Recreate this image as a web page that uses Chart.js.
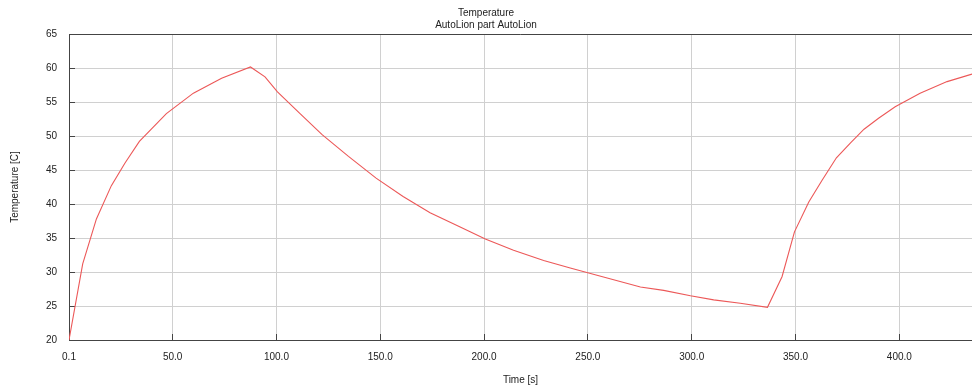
<!DOCTYPE html>
<html>
<head>
<meta charset="utf-8">
<script src="https://cdn.jsdelivr.net/npm/chart.js@4"></script>
<style>
  html, body { margin: 0; padding: 0; background: #fff; }
  #wrap { width: 972px; height: 387px; position: relative; }
</style>
</head>
<body>
<div id="wrap"><canvas id="chart"></canvas></div>
<script>
// Simulated cell temperature over time
const timeSeconds = [0.1, 6.7, 13.3, 20.5, 27, 34, 47, 60, 73.6, 87.5, 94.5, 100.5, 111, 122, 134.7, 148, 161, 174, 188.5, 200.6, 214.2, 228.7, 241.5, 258.4, 275.3, 286.5, 299.4, 310.6, 323.4, 336.5, 343.5, 349.5, 356.4, 362.8, 369.7, 376.5, 383, 390, 398, 410, 423, 435];
const temperatureC = [20, 31.2, 37.8, 42.7, 46, 49.2, 53.3, 56.3, 58.5, 60.15, 58.7, 56.5, 53.4, 50.2, 47, 43.8, 41.1, 38.7, 36.6, 34.85, 33.2, 31.7, 30.6, 29.2, 27.8, 27.3, 26.5, 25.9, 25.4, 24.8, 29.3, 35.9, 40.3, 43.5, 46.8, 49, 51, 52.6, 54.3, 56.3, 58, 59.1];
const xTickValues = [0.1, 50, 100, 150, 200, 250, 300, 350, 400];
const yTickValues = [20, 25, 30, 35, 40, 45, 50, 55, 60, 65];

const points = timeSeconds.map((t, i) => ({ x: t, y: temperatureC[i] }));

const FONT = { family: '"Liberation Sans", Arial, sans-serif', size: 10 };
const AXIS_COLOR = '#444';
const GRID_COLOR = '#d0d0d0';

// Frame line along the top of the plot area
const topFrame = {
  id: 'topFrame',
  afterDraw(chart) {
    const { ctx, chartArea: a } = chart;
    ctx.save();
    ctx.strokeStyle = AXIS_COLOR;
    ctx.lineWidth = 1;
    ctx.beginPath();
    ctx.moveTo(a.left, Math.round(a.top) + 0.5);
    ctx.lineTo(a.right, Math.round(a.top) + 0.5);
    ctx.stroke();
    ctx.restore();
  }
};

new Chart(document.getElementById('chart'), {
  type: 'line',
  data: {
    datasets: [{
      label: 'Temperature',
      data: points,
      borderColor: 'rgb(236,88,88)',
      borderWidth: 1.1,
      pointRadius: 0,
      tension: 0,
      fill: false
    }]
  },
  options: {
    responsive: true,
    maintainAspectRatio: false,
    animation: false,
    layout: { padding: 0 },
    plugins: {
      legend: { display: false },
      tooltip: { enabled: false },
      title: {
        display: true,
        text: 'Temperature',
        color: '#222',
        font: { ...FONT, weight: 'normal' },
        padding: { top: 7, bottom: 0 }
      },
      subtitle: {
        display: true,
        text: 'AutoLion part AutoLion',
        color: '#222',
        font: FONT,
        padding: { top: 0, bottom: 3 }
      }
    },
    scales: {
      x: {
        type: 'linear',
        min: 0.1,
        max: 435,
        afterBuildTicks(scale) { scale.ticks = xTickValues.map(v => ({ value: v })); },
        afterFit(scale) { scale.height = 47; },
        ticks: {
          color: '#222',
          font: FONT,
          padding: 17,
          maxRotation: 0,
          autoSkip: false,
          callback: v => (v === 0.1 ? '0.1' : Number(v).toFixed(1))
        },
        grid: { color: GRID_COLOR, tickColor: AXIS_COLOR, tickLength: -6, lineWidth: 1 },
        border: { color: AXIS_COLOR, width: 1 },
        title: { display: true, text: 'Time [s]', color: '#222', font: FONT, padding: { top: 0, bottom: 1 } }
      },
      y: {
        type: 'linear',
        min: 20,
        max: 65,
        afterBuildTicks(scale) { scale.ticks = yTickValues.map(v => ({ value: v })); },
        afterFit(scale) { scale.width = 69; },
        ticks: { color: '#222', font: FONT, padding: 18, autoSkip: false },
        grid: { color: GRID_COLOR, tickColor: AXIS_COLOR, tickLength: -6, lineWidth: 1 },
        border: { color: AXIS_COLOR, width: 1 },
        title: { display: true, text: 'Temperature [C]', color: '#222', font: FONT, padding: { top: 9, bottom: 0 } }
      }
    }
  },
  plugins: [topFrame]
});
</script>
</body>
</html>
